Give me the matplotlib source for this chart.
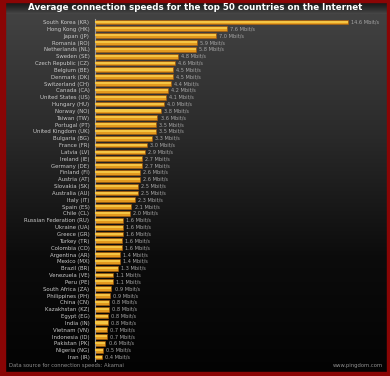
import numpy as np
import matplotlib
matplotlib.use("Agg")
import matplotlib.pyplot as plt
from matplotlib.patches import Rectangle
from matplotlib.colors import LinearSegmentedColormap

countries = [
    "South Korea (KR)", "Hong Kong (HK)", "Japan (JP)", "Romania (RO)", "Netherlands (NL)",
    "Sweden (SE)", "Czech Republic (CZ)", "Belgium (BE)", "Denmark (DK)", "Switzerland (CH)",
    "Canada (CA)", "United States (US)", "Hungary (HU)", "Norway (NO)", "Taiwan (TW)",
    "Portugal (PT)", "United Kingdom (UK)", "Bulgaria (BG)", "France (FR)", "Latvia (LV)",
    "Ireland (IE)", "Germany (DE)", "Finland (FI)", "Austria (AT)", "Slovakia (SK)",
    "Australia (AU)", "Italy (IT)", "Spain (ES)", "Chile (CL)", "Russian Federation (RU)",
    "Ukraine (UA)", "Greece (GR)", "Turkey (TR)", "Colombia (CO)", "Argentina (AR)",
    "Mexico (MX)", "Brazil (BR)", "Venezuela (VE)", "Peru (PE)", "South Africa (ZA)",
    "Philippines (PH)", "China (CN)", "Kazakhstan (KZ)", "Egypt (EG)", "India (IN)",
    "Vietnam (VN)", "Indonesia (ID)", "Pakistan (PK)", "Nigeria (NG)", "Iran (IR)",
]
speeds = [
    14.6, 7.6, 7.0, 5.9, 5.8, 4.8, 4.6, 4.5, 4.5, 4.4,
    4.2, 4.1, 4.0, 3.8, 3.6, 3.5, 3.5, 3.3, 3.0, 2.9,
    2.7, 2.7, 2.6, 2.6, 2.5, 2.5, 2.3, 2.1, 2.0, 1.6,
    1.6, 1.6, 1.55, 1.55, 1.45, 1.45, 1.3, 1.05, 1.05, 0.95,
    0.87, 0.8, 0.8, 0.77, 0.77, 0.67, 0.67, 0.6, 0.48, 0.38,
]
title = "Average connection speeds for the top 50 countries on the Internet"
source = "Data source for connection speeds: Akamai"
site = "www.pingdom.com"

W, H = 390, 376
fig = plt.figure(figsize=(W / 100, H / 100), dpi=100)

# background
bg = fig.add_axes([0, 0, 1, 1])
bg.set_xlim(0, W)
bg.set_ylim(H, 0)
bg.axis("off")
grad = np.linspace(0, 1, 256).reshape(-1, 1)
cmap = LinearSegmentedColormap.from_list("bg", ["#424242", "#2a2a2a", "#0c0c0c", "#030303"])
bg.imshow(grad, cmap=cmap, extent=[0, W, H, 14], aspect="auto", zorder=0)
tcmap = LinearSegmentedColormap.from_list("tb", ["#0e0e0e", "#262626", "#474747"])
bg.imshow(np.linspace(0, 1, 64).reshape(-1, 1), cmap=tcmap, extent=[0, W, 14, 0],
          aspect="auto", zorder=0)
red = "#8a0505"
bg.add_patch(Rectangle((0, 0), 5, H, color=red, zorder=2))
bg.add_patch(Rectangle((W - 3, 0), 3, H, color=red, zorder=2))
bg.add_patch(Rectangle((0, H - 4), W, 4, color=red, zorder=2))
bg.add_patch(Rectangle((0, 0), W, 1.5, color=red, zorder=2))
bg.text(W / 2, 7.5, title, color="white", fontsize=6.3, fontweight="bold",
        ha="center", va="center", zorder=3)
bg.text(9, 365.5, source, color="#8f8f8f", fontsize=3.8, ha="left", va="center", zorder=3)
bg.text(W - 7, 365.5, site, color="#8f8f8f", fontsize=3.8, ha="right", va="center", zorder=3)

# chart
left, right = 95, 360
top, bottom = 18.6, 360.5
ax = fig.add_axes([left / W, 1 - bottom / H, (right - left) / W, (bottom - top) / H])
ax.patch.set_alpha(0)
y = np.arange(len(countries))
xmax = 14.6 * (right - left) / 253
ax.barh(y, speeds, height=0.7, color="#e39a1e", edgecolor="#a85a0c", linewidth=0.4, zorder=2)
ax.barh(y - 0.06, speeds, height=0.3, color="#f4c544", linewidth=0, zorder=3)
for yi, v in zip(y, speeds):
    ax.text(v + 0.18, yi, f"{v:.1f} Mbit/s", color="#a8a8a8",
            fontsize=3.6, va="center", ha="left", zorder=4)
ax.set_xlim(0, xmax)
ax.set_ylim(len(countries) - 0.5, -0.5)
ax.set_yticks(y)
ax.set_yticklabels(countries, fontsize=3.9, color="#c8c8c8")
ax.tick_params(axis="y", length=0, pad=4)
ax.set_xticks([])
for s in ["top", "right", "bottom"]:
    ax.spines[s].set_visible(False)
ax.spines["left"].set_color("#9a9a9a")
ax.spines["left"].set_linewidth(0.8)

fig.savefig("out.png", dpi=100)
